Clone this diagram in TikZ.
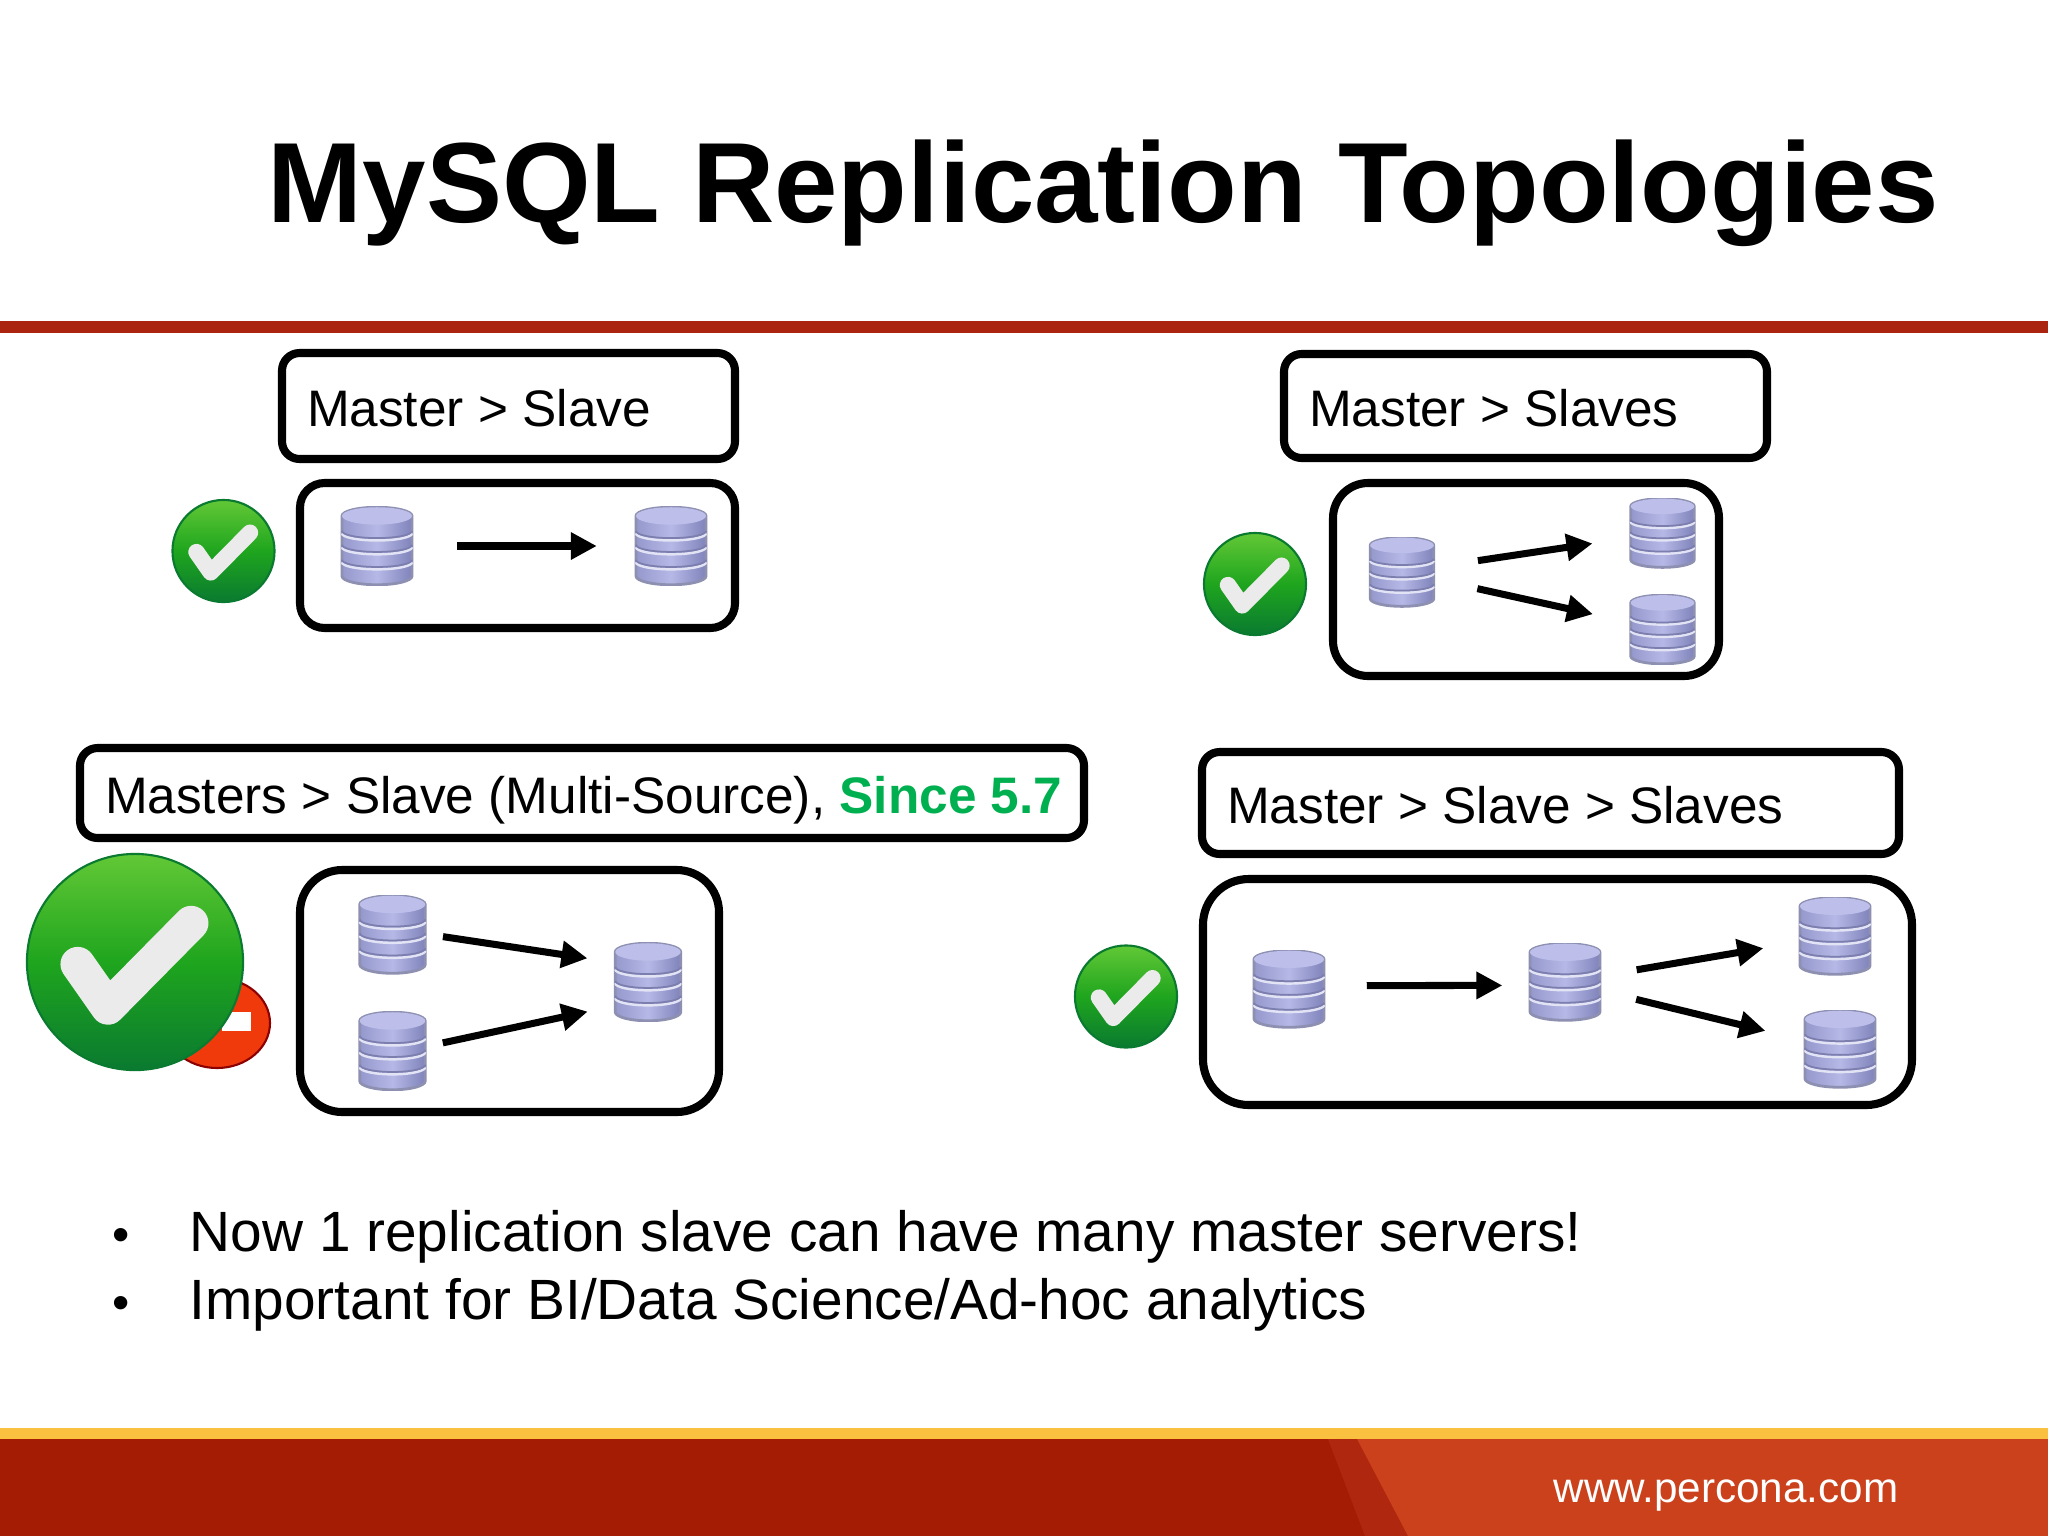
\documentclass[tikz,border=0pt]{standalone}
\usepackage{fontspec}
\setmainfont{Liberation Sans}
\usetikzlibrary{arrows.meta,shapes.geometric}

\definecolor{rulered}{HTML}{AA2410}
\definecolor{footdark}{HTML}{A51C05}
\definecolor{footmid}{HTML}{B0270F}
\definecolor{footlight}{HTML}{CA411C}
\definecolor{footyellow}{HTML}{FAC040}
\definecolor{sincegreen}{HTML}{00B050}
\definecolor{dbleft}{HTML}{9598CC}
\definecolor{dbmiddle}{HTML}{B6B8E6}
\definecolor{dbright}{HTML}{7F83BA}
\definecolor{dbtop}{HTML}{BDBFEA}
\definecolor{dbring}{HTML}{7C7FAE}
\definecolor{dbrim}{HTML}{8E90B2}
\definecolor{checklight}{HTML}{62C836}
\definecolor{checkmiddle}{HTML}{1FA51E}
\definecolor{checkdark}{HTML}{0A7A30}
\definecolor{badgered}{HTML}{F03A0C}

\tikzset{
  x=.01cm, y=-.01cm,
  boxline/.style={draw=black, line width=2.3pt},
  labelbox/.style={boxline, rounded corners=5pt, inner xsep=7.1pt, inner ysep=0pt,
    align=flush left, text height=11.9pt, text depth=0pt,
    font=\fontsize{14.6pt}{17pt}\selectfont},
  groupbox/.style={boxline, inner sep=0pt},
  flow/.style={line width=2pt, -{Triangle[width=7.4pt,length=7.4pt]}},
  dbstack/.style 2 args={minimum width=#1*.01cm, minimum height=#2*.01cm, inner sep=0pt,
    path picture={
      \begin{scope}[shift={(path picture bounding box.center)}, x=#1*.005cm, y=#2*.005cm]
        % body
        \shade[left color=dbleft, right color=dbright, middle color=dbmiddle, draw=dbrim, line width=.8pt]
          (-.92,.76) -- (-.92,-.76) arc (180:360:.92 and .22) -- (.92,.76) arc (0:180:.92 and .22) -- cycle;
        \fill[dbtop] (0,.76) ellipse (.92 and .22);
        % rings
        \foreach \yy in {.38,.03,-.35} {
          \draw[white!60!dbmiddle, line width=.7pt] (-.92,\yy-.06) arc (180:360:.92 and .18);
          \draw[dbring, line width=.5pt] (-.92,\yy) arc (180:360:.92 and .18);
        }
      \end{scope}
    }},
  okball/.style={circle, minimum size=#1*.02cm, inner sep=0pt, draw=checkdark, line width=.6pt,
    top color=checklight, bottom color=checkdark, middle color=checkmiddle,
    path picture={
      \begin{scope}[shift={(path picture bounding box.center)}, x=#1*.01cm, y=#1*.01cm]
        % check mark
        \draw[white!92!black, line width=#1*.0032cm, line cap=round, line join=round]
          (-.53,-.02) -- (-.25,-.42) -- (.52,.36);
      \end{scope}
    }},
}

\begin{document}
\begin{tikzpicture}
  \useasboundingbox (0,0) rectangle (2048,1536);
  \fill[white] (0,0) rectangle (2048,1536);

  % title and rule
  \node[anchor=base west, inner sep=0pt, font=\fontsize{32.43pt}{38pt}\selectfont\bfseries] (title) at (267,222) {MySQL Replication Topologies};
  \fill[rulered] (0,321) rectangle (2048,333);

  % footer
  \fill[footdark] (0,1439) rectangle (2048,1536);
  \fill[footmid] (1328,1439) -- (1365,1536) -- (1408,1536) -- (1357,1439) -- cycle;
  \fill[footlight] (1357,1439) -- (1408,1536) -- (2048,1536) -- (2048,1439) -- cycle;
  \fill[footyellow] (0,1428) rectangle (2048,1439);
  \node[anchor=base east, inner sep=0pt, text=white, font=\fontsize{12pt}{14pt}\selectfont] (site) at (1899,1502) {www.percona.com};

  % labels
  \node[labelbox, minimum width=453*.01cm, minimum height=106*.01cm, text width=403*.01cm] (lblsingle) at (508.5,406) {Master > Slave};
  \node[labelbox, minimum width=483*.01cm, minimum height=104*.01cm, text width=433*.01cm] (lblfanout) at (1525.5,406) {Master > Slaves};
  \node[labelbox, minimum width=1004*.01cm, minimum height=90*.01cm, text width=954*.01cm] (lblmulti) at (582,793) {\mbox{Masters > Slave (Multi-Source), {\bfseries\color{sincegreen}Since 5.7}}};
  \node[labelbox, minimum width=697*.01cm, minimum height=102*.01cm, text width=647*.01cm] (lblchain) at (1550.5,803) {Master > Slave > Slaves};

  % group boxes
  \node[groupbox, rounded corners=7pt, minimum width=435*.01cm, minimum height=145*.01cm] (grpsingle) at (517.5,555.5) {};
  \node[groupbox, rounded corners=10pt, minimum width=386*.01cm, minimum height=193*.01cm] (grpfanout) at (1526,579.5) {};
  \node[groupbox, rounded corners=12pt, minimum width=419*.01cm, minimum height=242*.01cm] (grpmulti) at (509.5,991) {};
  \node[groupbox, rounded corners=13pt, minimum width=709*.01cm, minimum height=226*.01cm] (grpchain) at (1557.5,992) {};

  % check marks
  \node[okball=51] (oksingle) at (223.5,551) {};
  \node[okball=51] (okfanout) at (1255,584) {};
  \node[okball=51] (okchain) at (1126,996.5) {};

  % big one with its red badge
  \node[ellipse, fill=badgered, draw=red!55!black, line width=.6pt, minimum width=106*.01cm, minimum height=90*.01cm, inner sep=0pt] (badge) at (217,1023) {};
  \node[fill=white, minimum width=29*.01cm, minimum height=19*.01cm, inner sep=0pt] (badgebar) at (236.5,1021.5) {};
  \node[okball=108] (okmulti) at (135,962) {};

  % databases
  \node[dbstack={76}{79}] (singleA) at (377,546) {};
  \node[dbstack={76}{79}] (singleB) at (671,546) {};

  \node[dbstack={69}{70}] (fanA) at (1402,572) {};
  \node[dbstack={69}{70}] (fanB) at (1662.5,533) {};
  \node[dbstack={69}{70}] (fanC) at (1662.5,629.5) {};

  \node[dbstack={71}{79}] (multiA) at (392.5,934.5) {};
  \node[dbstack={71}{79}] (multiB) at (392.5,1051) {};
  \node[dbstack={71}{79}] (multiC) at (648,982) {};

  \node[dbstack={76}{78}] (chainA) at (1289,989) {};
  \node[dbstack={76}{78}] (chainB) at (1565,982) {};
  \node[dbstack={76}{78}] (chainC) at (1835,936) {};
  \node[dbstack={76}{78}] (chainD) at (1840,1049) {};

  % replication arrows
  \draw[flow, shorten <=11.7pt, shorten >=10.1pt] (singleA) -- (singleB);

  \draw[flow, shorten <=11.7pt, shorten >=10pt] (fanA) -- (fanB);
  \draw[flow, shorten <=11.7pt, shorten >=10pt] (fanA) -- (fanC);

  \draw[flow, shorten <=4.1pt, shorten >=7pt] (multiA.east) -- (multiC.151);
  \draw[flow, shorten <=4.1pt, shorten >=7pt] (multiB.8) -- (multiC.214);

  \draw[flow, shorten <=11.1pt, shorten >=6.8pt] (chainA.5) -- (chainB.185);
  \draw[flow, shorten <=9.5pt, shorten >=9.5pt] (chainB) -- (chainC);
  \draw[flow, shorten <=9.5pt, shorten >=10.5pt] (chainB) -- (chainD);

  % bullets
  \foreach \lineid/\yy/\linetext in {one/1251/{Now 1 replication slave can have many master servers!}, two/1319/{Important for BI/Data Science/Ad-hoc analytics}} {
    \node[anchor=base, inner sep=0pt, font=\fontsize{14pt}{19pt}\selectfont] (dot\lineid) at (121,\yy) {\textbullet};
    \node[anchor=base west, inner sep=0pt, font=\fontsize{16.15pt}{19pt}\selectfont] (item\lineid) at (189,\yy) {\linetext};
  }
\end{tikzpicture}
\end{document}
